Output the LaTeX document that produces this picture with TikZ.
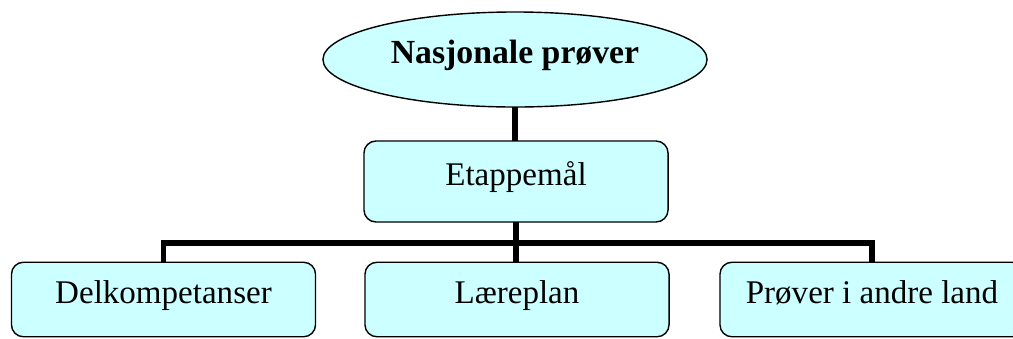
\documentclass[tikz,border=0pt]{standalone}
\usepackage{fontspec}
\setmainfont{Liberation Serif}
\usepackage{tikz}
\usetikzlibrary{shapes.geometric}

\definecolor{lysblaa}{RGB}{204,255,255}

\begin{document}
\begin{tikzpicture}[x=0.025cm,y=-0.025cm,
        boks/.style={draw,line width=1pt,fill=lysblaa,rounded corners=0.3cm,
            minimum width=7.6cm,inner xsep=0pt,inner ysep=0pt,outer sep=0pt,
            font=\fontsize{23.5}{28}\selectfont},
        strek/.style={line width=3.6pt}]
            \useasboundingbox (0,0) rectangle (1013,338);
            \node[ellipse,draw,line width=1pt,fill=lysblaa,outer sep=0pt,
                minimum width=9.6cm,minimum height=2.375cm,inner sep=0pt,
                text height=12pt,text depth=7pt,
                font=\fontsize{24}{28}\selectfont\bfseries] (nasjonale)
                at (515,59.5) {Nasjonale prøver};
            \node[boks,text height=31.3pt,text depth=26.3pt] (etappe)
                at (516,181.5) {Etappemål};
            \node[boks,text height=29pt,text depth=24pt] (delk)
                at (163.5,299.5) {Delkompetanser};
            \node[boks,text height=29pt,text depth=24pt] (laere)
                at (517,299.5) {Læreplan};
            \node[boks,text height=29pt,text depth=24pt] (andre)
                at (872,299.5) {Prøver i andre land};
            \coordinate (bus) at (516,243);
            \draw[strek] (nasjonale.south) -- (nasjonale.south |- etappe.north);
            \draw[strek] (etappe.south -| bus) -- (bus);
            \draw[strek] (delk.north) |- (bus) -| (andre.north);
            \draw[strek] (laere.north -| bus) -- (bus);
        \end{tikzpicture}
\end{document}
